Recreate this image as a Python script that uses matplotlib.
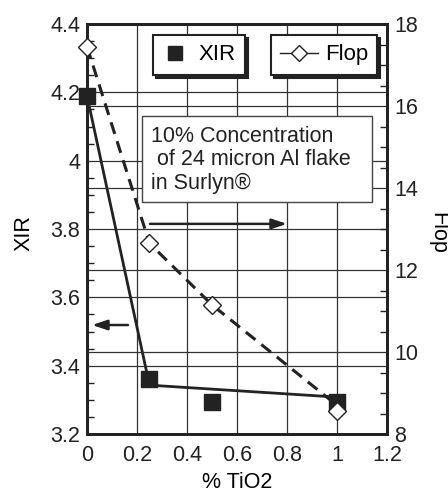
import matplotlib

matplotlib.use("Agg")
import matplotlib.pyplot as plt
from matplotlib.lines import Line2D
from matplotlib.patches import Rectangle
from matplotlib.ticker import MultipleLocator

plt.rcParams["font.family"] = ["Liberation Sans", "DejaVu Sans"]

tio2 = [0, 0.25, 0.5, 1.0]
xir = [4.19, 3.36, 3.295, 3.295]
xir_line_x = [0, 0.25, 1.0]
xir_line_y = [4.19, 3.343, 3.308]
flop = [17.45, 12.65, 11.15, 8.56]
flop_line_y = [17.45, 12.65, 11.15, 8.7]

note = "10% Concentration\n of 24 micron Al flake\nin Surlyn®"

fig = plt.figure(figsize=(4.48, 4.96), dpi=100)
ax = fig.add_axes([0.1942, 0.125, 0.6696, 0.8266])
ax2 = ax.twinx()

ax.set_xlim(0, 1.2)
ax.set_ylim(3.2, 4.4)
ax2.set_ylim(8, 18)

ax.yaxis.set_minor_locator(MultipleLocator(0.05))
ax2.yaxis.set_major_locator(MultipleLocator(2))
ax2.yaxis.set_minor_locator(MultipleLocator(0.5))

grid_kw = dict(color="#333333", linewidth=0.9)
ax.grid(True, which="major", axis="both", **grid_kw)
ax2.grid(True, which="major", axis="y", **grid_kw)
ax.set_axisbelow(True)

ax.set_xticks([0, 0.2, 0.4, 0.6, 0.8, 1.0, 1.2])
ax.set_xticklabels(["0", "0.2", "0.4", "0.6", "0.8", "1", "1.2"])
ax.set_yticks([3.2, 3.4, 3.6, 3.8, 4.0, 4.2, 4.4])
ax.set_yticklabels(["3.2", "3.4", "3.6", "3.8", "4", "4.2", "4.4"])

for a in (ax, ax2):
    a.tick_params(which="both", direction="in", labelsize=15.5, colors="#222222")
    a.tick_params(which="major", length=0, pad=5)
    for s in a.spines.values():
        s.set_linewidth(2)
        s.set_color("#222222")
ax.tick_params(axis="y", which="minor", length=5, width=1)
ax2.tick_params(axis="y", which="minor", length=5, width=1)
ax.tick_params(axis="x", which="major", pad=8)

ax.set_xlabel("% TiO2", fontsize=15.5, va="center")
ax.xaxis.set_label_coords(0.5, -0.118)
ax.set_ylabel("XIR", fontsize=15.5, va="center")
ax.yaxis.set_label_coords(-0.21, 0.49)
ax2.set_ylabel("Flop", fontsize=15.5, rotation=-90, va="center")
ax2.yaxis.set_label_coords(1.17, 0.49)

ax.plot(xir_line_x, xir_line_y, color="#222222", linewidth=2, zorder=3)
ax.plot(tio2, xir, linestyle="none", marker="s", markersize=11,
        color="#222222", zorder=4, clip_on=False)
ax2.plot(tio2, flop_line_y, color="#222222", linewidth=2.2,
         linestyle=(0, (4, 2.5)), zorder=3)
ax2.plot(tio2, flop, linestyle="none", marker="D", markersize=9,
         markerfacecolor="white", markeredgecolor="#222222",
         markeredgewidth=1, zorder=4, clip_on=False)

h1 = Line2D([], [], linestyle="none", marker="s", markersize=10, color="#222222")
h2 = Line2D([], [], color="#222222", linewidth=1, marker="D", markersize=8,
            markerfacecolor="white", markeredgecolor="#222222")
shadow = {"color": "#222222", "alpha": 1}
leg1 = ax2.legend([h1], ["XIR"], loc="upper left", bbox_to_anchor=(0.22, 0.973),
                  borderaxespad=0, fancybox=False, shadow=shadow, fontsize=16,
                  framealpha=1, edgecolor="#222222", handlelength=1.1,
                  handletextpad=0.55, borderpad=0.42)
leg1.get_frame().set_linewidth(1.5)
ax2.add_artist(leg1)
leg2 = ax2.legend([h2], ["Flop"], loc="upper left", bbox_to_anchor=(0.613, 0.973),
                  borderaxespad=0, fancybox=False, shadow=shadow, fontsize=16,
                  framealpha=1, edgecolor="#222222", handlelength=1.7,
                  handletextpad=0.3, borderpad=0.42)
leg2.get_frame().set_linewidth(1.5)

ax2.add_patch(Rectangle((0.1833, 0.566), 0.7667, 0.2096, transform=ax.transAxes,
                        facecolor="white", edgecolor="#444444", linewidth=1, zorder=6))
ax2.text(0.215, 0.752, note, transform=ax.transAxes, fontsize=15.5, color="#222222",
         va="top", ha="left", linespacing=1.15, zorder=7)

arrow_kw = dict(arrowstyle="-|>,head_length=0.9,head_width=0.3",
                color="#222222", linewidth=1.8, shrinkA=0, shrinkB=0)
ax.annotate("", xy=(0.80, 3.815), xytext=(0.252, 3.815), arrowprops=arrow_kw, zorder=5)
ax.annotate("", xy=(0.02, 3.519), xytext=(0.164, 3.519), arrowprops=arrow_kw, zorder=5)

fig.savefig("out.png", dpi=100)
